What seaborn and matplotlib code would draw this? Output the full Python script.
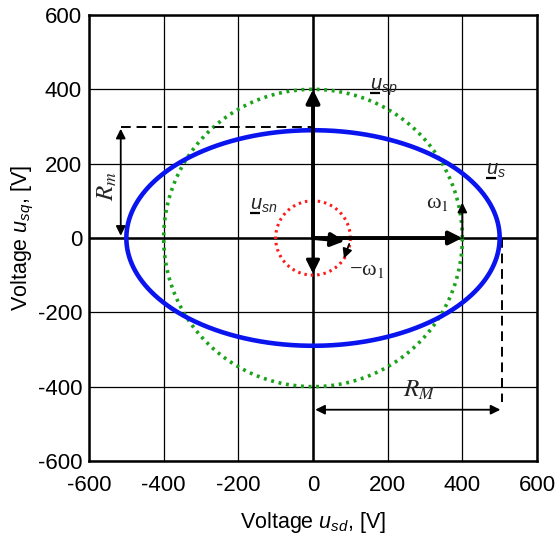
import numpy as np
import pandas as pd
import matplotlib
matplotlib.use("Agg")
import matplotlib.pyplot as plt
import seaborn as sns

sns.set_theme(style="white")
plt.rcParams['font.family'] = ['Liberation Sans', 'DejaVu Sans']
plt.rcParams['mathtext.fontset'] = 'custom'
plt.rcParams['mathtext.rm'] = 'Liberation Sans'
plt.rcParams['mathtext.it'] = 'Liberation Sans:italic'

# ---- data ----
ticks = [-600, -400, -200, 0, 200, 400, 600]
ellipse_axes = [500, 290]      # u_s trajectory semi-axes (R_M, R_m)
pos_radius = 400               # u_sp circle
neg_radius = 100               # u_sn circle
vec_us = [400, 0]
vec_usp = [0, 400]
vec_usn_x = [85, -8]
vec_usn_y = [0, -96]
omega_arrow = [[400, 0], [400, 95]]
neg_omega_arrow = [[97, -16], [83, -55]]
Rm_line = [[-515, 298], [0, 298]]
RM_line = [[507, 0], [507, -442]]
Rm_arrow = [[-515, 294], [-515, 6]]
RM_arrow = [[502, -462], [6, -462]]
# (subscript, left x of "u", baseline y)
vec_labels = [('sp', 153, 399), ('s', 463, 170), ('sn', -169, 76)]

t = np.linspace(0, 2*np.pi, 721)
df_s = pd.DataFrame({'x': ellipse_axes[0]*np.cos(t), 'y': ellipse_axes[1]*np.sin(t)})
df_p = pd.DataFrame({'x': pos_radius*np.cos(t), 'y': pos_radius*np.sin(t)})
df_n = pd.DataFrame({'x': neg_radius*np.cos(t), 'y': neg_radius*np.sin(t)})

fig = plt.figure(figsize=(5.59, 5.41), dpi=100)
ax = fig.add_axes([89/559, 1-461/541, 448/559, 446/541])

ax.set_xlim(-600, 600)
ax.set_ylim(-600, 600)
ax.set_xticks(ticks)
ax.set_yticks(ticks)
ax.set_xticklabels([str(v) for v in ticks])
ax.set_yticklabels([str(v) for v in ticks])
ax.grid(True, color='black', linewidth=0.9)
ax.tick_params(length=0, labelsize=16, colors='black')
ax.tick_params(axis='y', pad=5)
ax.tick_params(axis='x', pad=10)
for s in ax.spines.values():
    s.set_color('black')
    s.set_linewidth(1.8)

ax.axhline(0, color='black', lw=1.8, zorder=2)
ax.axvline(0, color='black', lw=1.8, zorder=2)

sns.lineplot(data=df_p, x='x', y='y', sort=False, estimator=None, color='#1aa31a', lw=2.6,
             linestyle=(0, (0.8, 1.3)), ax=ax, zorder=3)
sns.lineplot(data=df_n, x='x', y='y', sort=False, estimator=None, color='#ff1a1a', lw=2.2,
             linestyle=(0, (0.8, 1.3)), ax=ax, zorder=3)
sns.lineplot(data=df_s, x='x', y='y', sort=False, estimator=None, color='#0a14ee', lw=3.3,
             ax=ax, zorder=4)

ax.plot(*zip(*Rm_line), color='black', lw=1.4, ls=(0, (5, 3)), zorder=3)
ax.plot(*zip(*RM_line), color='black', lw=1.4, ls=(0, (5, 3)), zorder=3)

def arr(p0, p1, lw=2.5, style='-|>', ms=16):
    ax.annotate('', xy=p1, xytext=p0,
                arrowprops=dict(arrowstyle=style, color='black', lw=lw,
                                mutation_scale=ms, shrinkA=0, shrinkB=0), zorder=6)

arr([0, 0], vec_us, lw=2.8, ms=20)
arr([0, 0], vec_usp, lw=2.8, ms=20)
arr([0, 0], vec_usn_x, lw=2.8, ms=20)
arr([0, 0], vec_usn_y, lw=2.2, ms=20)
arr(omega_arrow[0], omega_arrow[1], lw=1.3, ms=14)
arr(neg_omega_arrow[0], neg_omega_arrow[1], lw=1.3, ms=14)
arr(Rm_arrow[0], Rm_arrow[1], lw=1.3, style='<|-|>', ms=14)
arr(RM_arrow[0], RM_arrow[1], lw=1.3, style='<|-|>', ms=14)

for sub, x, y in vec_labels:
    ax.text(x, y, r'$u_{%s}$' % sub, ha='left', va='baseline', fontsize=14.5, zorder=7)
    ax.plot([x, x + 27], [y - 8, y - 8], color='black', lw=1.6, zorder=7,
            solid_capstyle='butt')

ax.text(-553, 139, r'$R_m$', rotation=90, ha='center', va='center', fontsize=18,
        math_fontfamily='stix')
ax.text(285, -410, r'$R_M$', ha='center', va='center', fontsize=18,
        math_fontfamily='stix')
ax.text(333, 94, 'ω$_1$', ha='center', va='center', fontsize=16,
        family=['Liberation Serif', 'DejaVu Serif'], math_fontfamily='stix')
ax.text(145, -88, '−ω$_1$', ha='center', va='center', fontsize=16,
        family=['Liberation Serif', 'DejaVu Serif'], math_fontfamily='stix')

ax.set_xlabel(r'Voltage $u_{sd}$, [V]', fontsize=15.5, labelpad=10, color='black')
ax.set_ylabel(r'Voltage $u_{sq}$, [V]', fontsize=15.5, labelpad=1, color='black')

fig.savefig('out.png', dpi=100)
